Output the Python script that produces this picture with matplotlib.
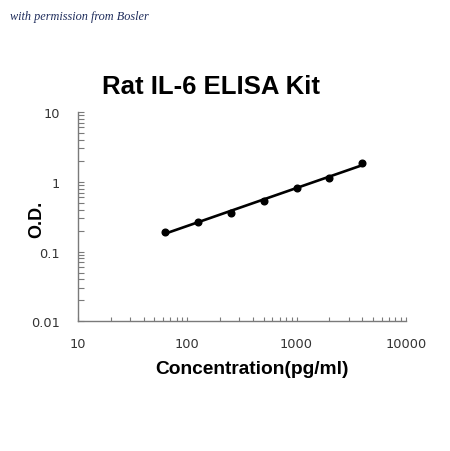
import numpy as np
import matplotlib
matplotlib.use("Agg")
import matplotlib.pyplot as plt
from matplotlib.ticker import LogLocator, FixedLocator, FixedFormatter, NullFormatter

# standard curve
conc = [62.5, 125, 250, 500, 1000, 2000, 4000]
od = [0.19, 0.265, 0.36, 0.535, 0.82, 1.15, 1.84]

x_ticks = [10, 100, 1000, 10000]
x_labels = ["10", "100", "1000", "10000"]
y_ticks = [0.01, 0.1, 1, 10]
y_labels = ["0.01", "0.1", "1", "10"]

AXIS_GREY = "#7a7a7a"

fig = plt.figure(figsize=(4.5, 4.52), dpi=100)
ax = fig.add_axes([0.173, 0.287, 0.729, 0.463])

# fitted curve (straight line in log-log space)
lx, ly = np.log10(conc), np.log10(od)
coef = np.polyfit(lx, ly, 1)
xs = np.linspace(lx[0], lx[-1], 200)
ax.plot(10 ** xs, 10 ** np.polyval(coef, xs), color="black", lw=1.9, zorder=2)
ax.plot(conc, od, "o", color="black", ms=4.8, zorder=3)

ax.set_xscale("log")
ax.set_yscale("log")
ax.set_xlim(10, 10000)
ax.set_ylim(0.01, 10)

for s in ("top", "right"):
    ax.spines[s].set_visible(False)
for s in ("left", "bottom"):
    ax.spines[s].set_color(AXIS_GREY)
    ax.spines[s].set_linewidth(1.0)

ax.xaxis.set_major_locator(FixedLocator(x_ticks))
ax.xaxis.set_major_formatter(FixedFormatter(x_labels))
ax.yaxis.set_major_locator(FixedLocator(y_ticks))
ax.yaxis.set_major_formatter(FixedFormatter(y_labels))
ax.xaxis.set_minor_locator(LogLocator(base=10, subs=np.arange(2, 10)))
ax.yaxis.set_minor_locator(LogLocator(base=10, subs=np.arange(2, 10)))
ax.xaxis.set_minor_formatter(NullFormatter())
ax.yaxis.set_minor_formatter(NullFormatter())

ax.tick_params(which="both", direction="in", color=AXIS_GREY, width=0.8,
               labelsize=9.3, labelcolor="#333333")
ax.tick_params(axis="x", which="major", length=3, pad=11)
ax.tick_params(axis="x", which="minor", length=3)
ax.tick_params(axis="y", which="major", length=4, pad=13)
ax.tick_params(axis="y", which="minor", length=4)

ax.set_xlabel("Concentration(pg/ml)", fontsize=13.8, fontweight="bold",
              family="Liberation Sans")
ax.xaxis.set_label_coords(0.53, -0.185)
ax.set_ylabel("O.D.", fontsize=13, fontweight="bold", family="Liberation Sans")
ax.yaxis.set_label_coords(-0.10, 0.49)

fig.text(0.469, 0.808, "Rat IL-6 ELISA Kit", ha="center", va="center",
         fontsize=18.5, fontweight="bold", family="Liberation Sans")
fig.text(0.022, 0.962, "with permission from Bosler", ha="left", va="center",
         fontsize=8.8, style="italic", family="Liberation Serif", color="#1f2d5c")

fig.savefig("out.png", dpi=100)
